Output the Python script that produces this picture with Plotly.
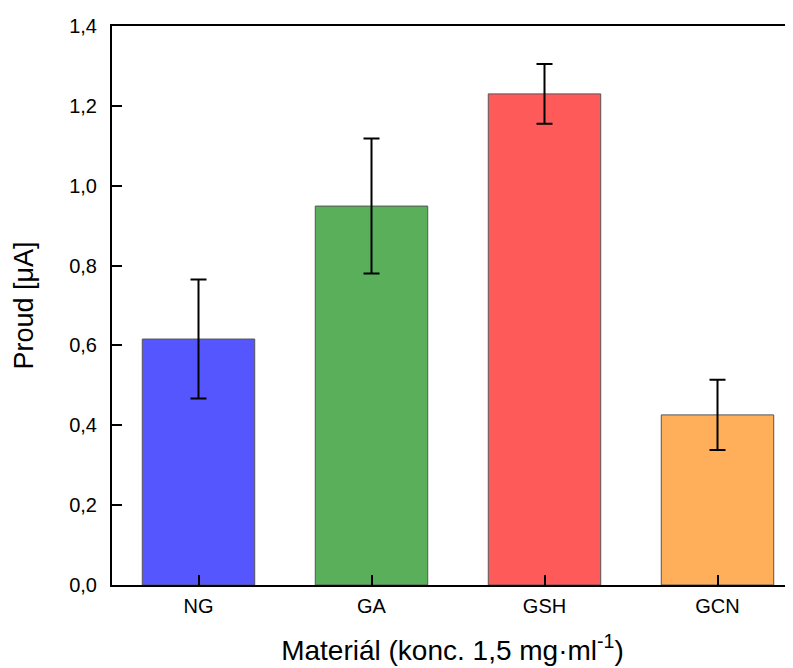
import plotly.graph_objects as go

categories = ["NG", "GA", "GSH", "GCN"]
values = [0.616, 0.949, 1.230, 0.426]
errors = [0.149, 0.169, 0.075, 0.088]
colors = ["#5656FF", "#5AAF5A", "#FF5A5A", "#FFAE5A"]
y_ticks = [0.0, 0.2, 0.4, 0.6, 0.8, 1.0, 1.2, 1.4]

fig = go.Figure()
fig.add_trace(go.Bar(
    x=list(range(len(categories))),
    y=values,
    width=0.65,
    marker=dict(color=colors, line=dict(color="#555555", width=1)),
    error_y=dict(type="data", array=errors, visible=True, color="black", thickness=2, width=8),
))

font = "Liberation Sans, Arial, sans-serif"
fig.update_layout(
    width=785, height=660,
    margin=dict(l=104, r=0, t=18, b=83),
    paper_bgcolor="white", plot_bgcolor="white",
    separators=", ",
    showlegend=False,
    font=dict(family=font, size=20, color="black"),
    xaxis=dict(
        range=[-0.5, -0.5 + 681 / 173],
        tickmode="array", tickvals=list(range(len(categories))), ticktext=categories,
        ticks="inside", ticklen=10, tickwidth=2, tickcolor="black",
        showline=True, linecolor="black", linewidth=2, mirror=True,
        showgrid=False, zeroline=False,
        title=dict(text="Materiál (konc. 1,5 mg·ml<sup>-1</sup>)", font=dict(size=28), standoff=24),
        tickfont=dict(size=20),
        ticklabelstandoff=2,
    ),
    yaxis=dict(
        range=[0, 1.4],
        tickmode="array", tickvals=y_ticks,
        tickformat=".1f",
        ticks="inside", ticklen=10, tickwidth=2, tickcolor="black",
        showline=True, linecolor="black", linewidth=2,
        showgrid=False, zeroline=False,
        title=dict(text="Proud [μA]", font=dict(size=27), standoff=28),
        tickfont=dict(size=20),
        ticklabelstandoff=9,
    ),
)

fig.write_html("out.html")
